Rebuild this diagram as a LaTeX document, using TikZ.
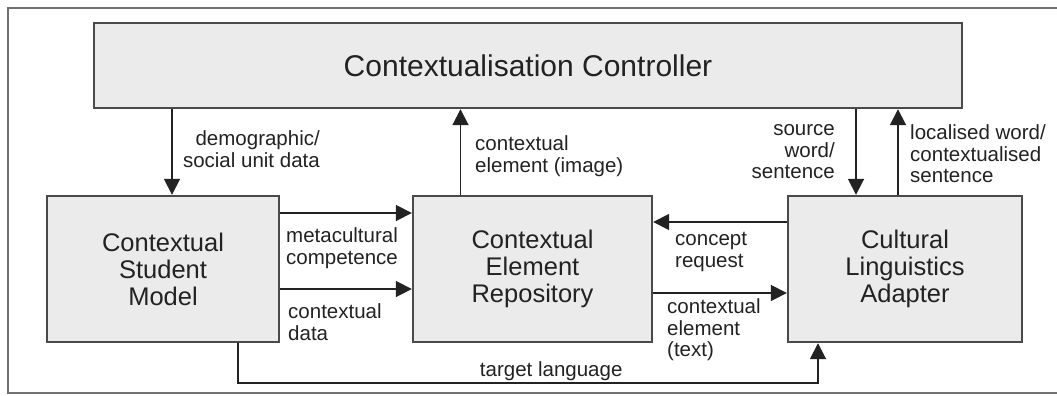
\documentclass[tikz,border=0pt]{standalone}
\usepackage{fontspec}
\setmainfont{Liberation Sans}
\usetikzlibrary{arrows.meta}
\definecolor{boxfill}{HTML}{EBEBEB}
\definecolor{boxline}{HTML}{4A4A4A}
\definecolor{ink}{HTML}{222222}
\definecolor{framec}{HTML}{707070}
\begin{document}
\begin{tikzpicture}[x=1pt,y=-1pt,
  box/.style={draw=boxline, line width=2.4pt, fill=boxfill, inner sep=0pt, align=center,
    text=ink, font=\fontsize{25.5}{27}\selectfont},
  lbl/.style={inner sep=0pt, text=ink, font=\fontsize{20.5}{21.5}\selectfont},
  arr/.style={draw=ink, line width=1.8pt, -{Triangle[length=16pt,width=16pt]}},
  frame/.style={draw=framec, line width=2pt}]
\useasboundingbox (0,0) rectangle (1057,396);
\draw[frame] (1057,8) -- (8,8) -- (8,393) -- (1057,393);

\node[box, minimum width=868pt, minimum height=85pt, font=\fontsize{30}{32}\selectfont] (ctrl) at (528,65.5) {Contextualisation Controller};
\node[box, minimum width=232pt, minimum height=146pt] (sm) at (163,269) {Contextual\\Student\\Model};
\node[box, minimum width=239pt, minimum height=146pt] (cer) at (532.5,269) {Contextual\\Element\\Repository};
\node[box, minimum width=234pt, minimum height=146pt] (ad) at (905,269) {Cultural\\Linguistics\\Adapter};

\node[lbl, anchor=east, align=right] (l1) at (320,149) {demographic/\\social unit data};
\node[lbl, anchor=west, align=left] (l2) at (475,156) {contextual\\element (image)};
\node[lbl, anchor=east, align=right] (l3) at (835,152) {source\\word/\\sentence};
\node[lbl, anchor=west, align=left] (l4) at (910,154) {localised word/\\contextualised\\sentence};
\node[lbl, anchor=west, align=left] (l5) at (286,248) {metacultural\\competence};
\node[lbl, anchor=west, align=left] (l6) at (288,322) {contextual\\data};
\node[lbl, anchor=west, align=left] (l7) at (675,252) {concept\\request};
\node[lbl, anchor=west, align=left] (l8) at (667,330) {contextual\\element\\(text)};

\draw[arr] ([xshift=9pt]sm.north |- ctrl.south) -- ([xshift=9pt]sm.north);
\draw[arr] ([xshift=-72pt]cer.north) -- ([xshift=-72pt]cer.north |- ctrl.south);
\draw[arr] ([xshift=-49pt]ad.north |- ctrl.south) -- ([xshift=-49pt]ad.north);
\draw[arr] ([xshift=-7pt]ad.north) -- ([xshift=-7pt]ad.north |- ctrl.south);
\draw[arr] ([yshift=56pt]sm.east) -- ([yshift=56pt]cer.west);
\draw[arr] ([yshift=-20pt]sm.east) -- ([yshift=-20pt]cer.west);
\draw[arr] ([yshift=47pt]ad.west) -- ([yshift=47pt]cer.east);
\draw[arr] ([yshift=-24pt]cer.east) -- ([yshift=-24pt]ad.west);
\draw[arr] ([xshift=75pt]sm.south) -- ++(0,40) -| node[lbl, pos=0.27, above=1.5pt] (tl) {target language} ([xshift=-87pt]ad.south);
\end{tikzpicture}
\end{document}
